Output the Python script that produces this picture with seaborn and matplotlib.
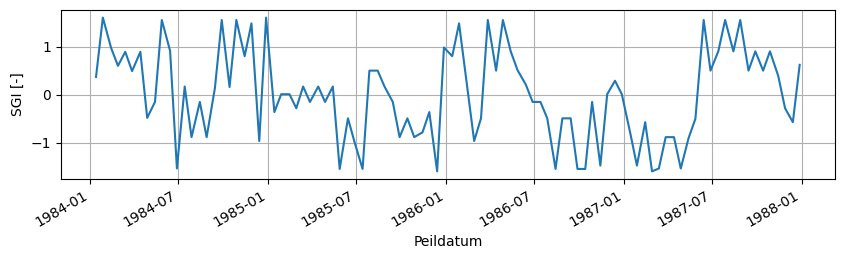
import matplotlib
matplotlib.use("Agg")
import matplotlib.pyplot as plt
import matplotlib.dates as mdates
import seaborn as sns
import pandas as pd

years = [1984, 1985, 1986, 1987]
days = [14, 28]
sgi_1984 = [0.37, 1.6, 0.97, 0.6, 0.89, 0.49, 0.89, -0.48, -0.15, 1.55, 0.91, -1.53,
            0.17, -0.88, -0.15, -0.88, 0.14, 1.55, 0.16, 1.55, 0.8, 1.48, -0.96, 1.6]
sgi_1985 = [-0.36, 0.01, 0.01, -0.28, 0.17, -0.15, 0.17, -0.15, 0.17, -1.54, -0.49, -1.0,
            -1.54, 0.5, 0.5, 0.17, -0.15, -0.88, -0.49, -0.88, -0.78, -0.36, -1.59, 0.98]
sgi_1986 = [0.8, 1.48, 0.14, -0.96, -0.49, 1.55, 0.5, 1.55, 0.9, 0.51, 0.21, -0.15,
            -0.15, -0.49, -1.54, -0.49, -0.49, -1.54, -1.54, -0.15, -1.47, 0.01, 0.29, 0.01]
sgi_1987 = [-0.78, -1.47, -0.57, -1.59, -1.53, -0.88, -0.88, -1.53, -0.9, -0.5, 1.55, 0.5,
            0.9, 1.55, 0.9, 1.55, 0.5, 0.9, 0.5, 0.9, 0.39, -0.28, -0.57, 0.62]

dates = [pd.Timestamp(year=y, month=m, day=d) for y in years for m in range(1, 13) for d in days]
values = sgi_1984 + sgi_1985 + sgi_1986 + sgi_1987
df = pd.DataFrame({"Peildatum": dates, "SGI": values})

fig, ax = plt.subplots(figsize=(8.45, 2.61), dpi=100)
sns.lineplot(data=df, x="Peildatum", y="SGI", ax=ax, color="#1f77b4", linewidth=1.5)
ax.grid(True, color="#b0b0b0", linewidth=0.8)
ax.set_xlabel("Peildatum")
ax.set_ylabel("SGI [-]")
ax.xaxis.set_major_locator(mdates.MonthLocator(bymonth=[1, 7]))
ax.xaxis.set_major_formatter(mdates.DateFormatter("%Y-%m"))
ax.set_yticks([-1, 0, 1])
for lab in ax.get_xticklabels():
    lab.set_rotation(30)
    lab.set_ha("right")
fig.subplots_adjust(left=0.072, right=0.988, top=0.962, bottom=0.314)
fig.savefig("out.png", dpi=100)
